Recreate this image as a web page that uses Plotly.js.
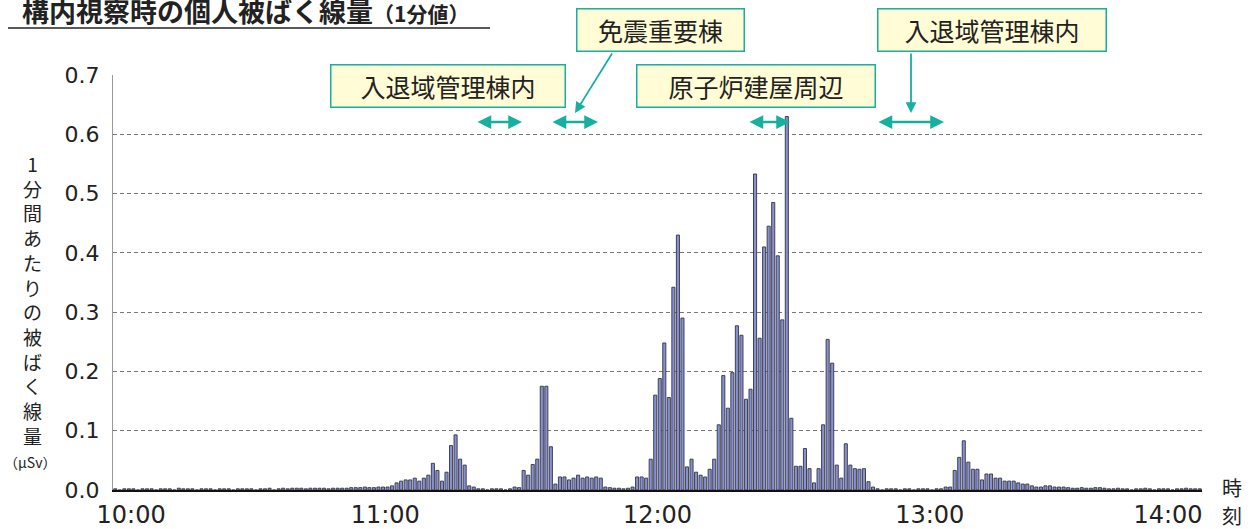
<!DOCTYPE html>
<html><head><meta charset="utf-8">
<script src="https://cdn.plot.ly/plotly-3.0.1.min.js"></script>
<style>html,body{margin:0;padding:0;background:#fff}#chart{width:1254px;height:529px}</style>
</head><body><div id="chart"></div>
<script>
// 1-minute dose values (μSv), 10:00 – 14:00, one bar per minute
const doseValues = [
  // 10:00 – 10:36
  0.002,0,0.002,0.002,0.002,0, 0.002,0.002,0.002,0, 0.002,0.002,0.002,0,
  0.003,0.002,0.002,0.002,0, 0.002,0.002,0.002,0, 0.002,0.002,0.002,0,
  0.002,0.002,0.002,0.002,0, 0.002,0.002,0.003,0, 0.002,
  // 10:37 – 10:51
  0.003,0.002,0.003,0.003,0.003,0.002,0.003,0.003,0.003,0.003,0.002,0.003,0.003,0.003,0.003,
  // 10:52 – 10:58
  0.004,0.004,0.004,0.005,0.004,0.004,0.005,
  // 10:59 – 11:19
  0.005,0.005,0.007,0.012,0.015,0.017,0.017,0.02,0.015,0.02,0.025,0.045,0.033,0.015,0.03,0.075,0.093,0.052,0.042,0.007,0.005,
  // 11:20 – 11:27
  0.002,0.002,0,0.002,0.002,0.002,0,0.002,
  // 11:28 – 11:49
  0.005,0.004,0.033,0.025,0.043,0.052,0.175,0.175,0.073,0.01,0.022,0.022,0.017,0.02,0.025,0.02,0.022,0.02,0.022,0.02,0.005,0.004,
  // 11:50 – 11:53
  0.003,0.003,0.002,0.003,
  // 11:54 – 12:42
  0.005,0.022,0.022,0.02,0.052,0.16,0.188,0.248,0.156,0.342,0.43,0.29,0.039,0.052,0.03,0.025,0.022,
  0.035,0.052,0.11,0.193,0.138,0.198,0.277,0.261,0.153,0.17,0.533,0.256,0.41,0.445,0.485,0.395,
  0.287,0.63,0.121,0.04,0.04,0.07,0.036,0.012,0.036,0.11,0.254,0.214,0.042,0.02,0.078,0.042,
  // 12:43 – 12:47
  0.036,0.035,0.036,0.014,0.005,
  // 12:48 – 13:02
  0.002,0,0.002,0.002,0.002,0,0.002,0.002,0,0.002,0.002,0.002,0,0.002,0.002,
  // 13:03 – 13:29
  0.005,0.005,0.033,0.055,0.083,0.047,0.035,0.035,0.017,0.027,0.027,0.02,0.02,0.015,0.015,0.015,
  0.012,0.01,0.01,0.007,0.005,0.005,0.007,0.007,0.005,0.005,0.005,
  // 13:30 – 13:59
  0.004,0.003,0.003,0.004,0.003,0.003,0.004,0.004,0.003,0.002,0.002,0.003,0.002,0.002,0,
  0.002,0.002,0.003,0.002,0,0.002,0.002,0.002,0,0.002,0.002,0.003,0.002,0.002,0.002
];
const minuteIndex = doseValues.map((_, i) => i + 0.5);
const timeLabels = ['10:00', '11:00', '12:00', '13:00', '14:00'];
const timeTickMinutes = [4, 60, 120, 180, 232.5];
const doseTicks = [0, 0.1, 0.2, 0.3, 0.4, 0.5, 0.6, 0.7];
const areaLabels = ['入退域管理棟内', '免震重要棟', '原子炉建屋周辺', '入退域管理棟内'];
const yTitleChars = ['1','分','間','あ','た','り','の','被','ば','く','線','量'];
const xTitleChars = ['時', '刻'];

// pixel helpers for decorations (plot area: x 113..1202, y 75..490)
const L = 113, R = 1202, T = 75, B = 490;
const PX = px => (px - L) / (R - L);
const PY = py => (B - py) / (B - T);

const teal = '#16b0a0';
const cjk = '"Noto Sans CJK JP", "Noto Sans", sans-serif';
const boxFont = {family: cjk, size: 25, color: '#222'};

function box(text, cx, cy, w, h) {
  return {x: PX(cx), y: PY(cy), xref: 'paper', yref: 'paper', xanchor: 'center', yanchor: 'middle',
    text: text, showarrow: false,
    font: boxFont, bgcolor: '#fffcd6', bordercolor: teal, borderwidth: 1.5, borderpad: 0,
    width: w - 3, height: h - 3, align: 'center', valign: 'middle'};
}
function dbl(x0, x1, py) {
  return {x: PX(x1), y: PY(py), ax: PX(x0), ay: PY(py), xref: 'paper', yref: 'paper',
    axref: 'paper', ayref: 'paper',
    text: '', showarrow: true, arrowside: 'end+start', arrowhead: 2, arrowsize: 1.1,
    arrowwidth: 2.5, arrowcolor: teal, standoff: 0, startstandoff: 0};
}
function leader(x0, y0, x1, y1) {
  return {x: PX(x1), y: PY(y1), ax: PX(x0), ay: PY(y0), xref: 'paper', yref: 'paper',
    axref: 'paper', ayref: 'paper',
    text: '', showarrow: true, arrowhead: 2, arrowsize: 1.2, arrowwidth: 1.8,
    arrowcolor: teal, standoff: 0, startstandoff: 0};
}
function label(text, px, py, size) {
  return {xref: 'paper', yref: 'paper', x: PX(px), y: PY(py), xanchor: 'center', yanchor: 'middle',
    text: text, showarrow: false, borderpad: 0, font: {family: cjk, size: size, color: '#222'}};
}

const trace = {
  type: 'bar', x: minuteIndex, y: doseValues, width: 0.68,
  marker: {color: '#8890d4', line: {color: '#34343f', width: 0.9}},
  hoverinfo: 'y'
};

const layout = {
  width: 1254, height: 529,
  margin: {l: L, r: 1254 - R, t: T, b: 529 - B},
  paper_bgcolor: '#fff', plot_bgcolor: '#fff',
  showlegend: false, bargap: 0,
  xaxis: {
    range: [0, 240], showgrid: false, zeroline: false,
    showline: true, linecolor: '#111', linewidth: 1.5,
    tickvals: timeTickMinutes, ticktext: timeLabels, ticks: '',
    ticklabelstandoff: 3,
    tickfont: {family: '"DejaVu Sans", sans-serif', size: 24, color: '#222'}
  },
  yaxis: {
    range: [0, 0.7], tickvals: doseTicks, tickformat: '.1f', ticks: '',
    showgrid: true, gridcolor: '#777', gridwidth: 1, griddash: '4px,3px',
    zeroline: false, showline: true, linecolor: '#999', linewidth: 1,
    ticklabelstandoff: 8,
    tickfont: {family: '"DejaVu Sans", sans-serif', size: 22, color: '#222'}
  },
  shapes: [
    {type: 'line', xref: 'paper', yref: 'paper', x0: PX(8), x1: PX(490), y0: PY(28), y1: PY(28),
     line: {color: '#222', width: 1.5}}
  ],
  annotations: [
    {xref: 'paper', yref: 'paper', x: PX(20), y: PY(11), xanchor: 'left', yanchor: 'middle',
     text: '構内視察時の個人被ばく線量<span style="font-size:21px">（1分値）</span>', showarrow: false,
     font: {family: cjk, size: 27, color: '#222', weight: 'bold'}},
    {xref: 'paper', yref: 'paper', x: PX(32), y: PY(299), xanchor: 'center', yanchor: 'middle',
     text: yTitleChars.join('<br>'), showarrow: false, font: {family: cjk, size: 19, color: '#222'}},
    label('（μSv）', 30, 462, 14),
    label(xTitleChars[0], 1232, 487, 20),
    label(xTitleChars[1], 1232, 515, 20),
    box(areaLabels[0], 448, 86, 236, 44),
    box(areaLabels[1], 660.5, 30, 169, 44),
    box(areaLabels[2], 756, 86, 240, 44),
    box(areaLabels[3], 992, 30, 230, 44),
    dbl(476, 522, 122),
    dbl(551, 598, 122),
    dbl(748, 790, 122),
    dbl(877, 944, 122),
    leader(613, 52, 575, 113),
    leader(911, 52, 911, 113)
  ]
};

Plotly.newPlot('chart', [trace], layout, {displayModeBar: false, staticPlot: true});
</script>
</body></html>
